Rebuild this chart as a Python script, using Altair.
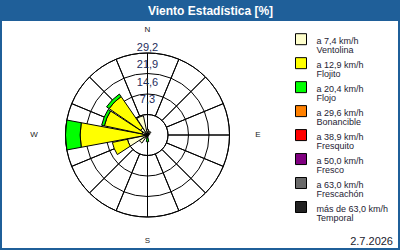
import altair as alt
import pandas as pd

# ---------------- data ----------------
title_text = "Viento Estadística [%]"
date_text = "2.7.2026"

directions = ["N", "NNE", "NE", "ENE", "E", "ESE", "SE", "SSE",
              "S", "SSW", "SW", "WSW", "W", "WNW", "NW", "NNW"]

ventolina  = [2.0, 1.5, 1.5, 0.8, 0.5, 0.4, 0.4, 0.5, 0.4, 1.2, 3.5, 7.3, 1.5, 2.0, 3.0, 7.0]
flojito    = [0.0, 0.0, 0.0, 0.0, 0.0, 0.0, 0.0, 0.0, 0.4, 0.0, 0.0, 5.5, 22.5, 13.7, 13.6, 0.0]
flojo      = [0.0, 0.0, 0.0, 0.0, 0.0, 0.0, 0.0, 0.0, 1.6, 0.0, 0.0, 0.0, 5.2, 1.0, 1.1, 0.0]
bonancible = [0.0] * 16
fresquito  = [0.0] * 16
fresco     = [0.0] * 16
frescachon = [0.0] * 16
temporal   = [0.0] * 16

speed_labels = ["a 7,4 km/h", "a 12,9 km/h", "a 20,4 km/h", "a 29,6 km/h",
                "a 38,9 km/h", "a 50,0 km/h", "a 63,0 km/h", "más de 63,0 km/h"]
class_names = ["Ventolina", "Flojito", "Flojo", "Bonancible",
               "Fresquito", "Fresco", "Frescachón", "Temporal"]
colors = ["#FFFFCC", "#FFFF00", "#00FF00", "#FF8000",
          "#FF0000", "#800080", "#696969", "#222222"]

ring_values = [7.3, 14.6, 21.9, 29.2]
ring_labels = ["7,3", "14,6", "21,9", "29,2"]

compass_ns = ["N", "S"]
compass_ns_deg = [0, 180]
compass_we = ["W", "E"]
compass_we_deg = [270, 90]

series = [ventolina, flojito, flojo, bonancible, fresquito, fresco, frescachon, temporal]

# ---------------- tables ----------------
STEP = 360 / len(directions)
HALF = 10.5
rows = []
for i, d in enumerate(directions):
    base = 0.0
    for j, s in enumerate(series):
        v = s[i]
        if v > 0:
            rows.append(dict(dir=d, cls=class_names[j],
                             t0=i * STEP - HALF, t1=i * STEP + HALF,
                             r0=base, r1=base + v))
            base += v
wedges = pd.DataFrame(rows)

sectors = pd.DataFrame(dict(
    t0=[i * STEP for i in range(len(directions))],
    t1=[(i + 1) * STEP for i in range(len(directions))],
    rin=[ring_values[0]] * len(directions),
    rout=[ring_values[-1]] * len(directions),
))
rings = pd.DataFrame(dict(v=ring_values, t0=[0] * 4, t1=[360] * 4))
ns_line = pd.DataFrame(dict(t=[0, 180], r=[ring_values[0]] * 2, r0=[0, 0]))
ring_lab = pd.DataFrame(dict(v=ring_values, lab=ring_labels, t=[0] * 4))
ns_df = pd.DataFrame(dict(lab=compass_ns, t=compass_ns_deg))
we_df = pd.DataFrame(dict(lab=compass_we, t=compass_we_deg))
legend_df = pd.DataFrame(dict(cls=class_names, speed=speed_labels))
date_df = pd.DataFrame(dict(txt=[date_text]))
title_df = pd.DataFrame(dict(txt=[title_text]))

# ---------------- scales ----------------
CX, CY = 145.5, 114
theta_scale = alt.Scale(domain=[0, 360], range=[0, 6.283185307179586])
rad_scale = alt.Scale(type="linear", domain=[0, 29.2], range=[0, 82])
color_scale = alt.Scale(domain=class_names, range=colors)
FONT = "Liberation Sans"

cx = alt.value(CX)
cy = alt.value(CY)

grid_sectors = alt.Chart(sectors).mark_arc(
    fill="transparent", stroke="black", strokeWidth=1
).encode(
    theta=alt.Theta("t0:Q", scale=theta_scale, stack=None),
    theta2="t1:Q",
    radius=alt.Radius("rout:Q", scale=rad_scale),
    radius2="rin:Q",
    x=cx, y=cy,
)

grid_rings = alt.Chart(rings).mark_arc(
    fill="transparent", stroke="black", strokeWidth=1
).encode(
    theta=alt.Theta("t0:Q", scale=theta_scale, stack=None),
    theta2="t1:Q",
    radius=alt.Radius("v:Q", scale=rad_scale),
    x=cx, y=cy,
)

grid_ns = alt.Chart(ns_line).mark_arc(
    fill="transparent", stroke="black", strokeWidth=1
).encode(
    theta=alt.Theta("t:Q", scale=theta_scale, stack=None),
    theta2="t:Q",
    radius=alt.Radius("r:Q", scale=rad_scale),
    radius2="r0:Q",
    x=cx, y=cy,
)

wedge_layer = alt.Chart(wedges).mark_arc(
    stroke="black", strokeWidth=1
).encode(
    theta=alt.Theta("t0:Q", scale=theta_scale, stack=None),
    theta2="t1:Q",
    radius=alt.Radius("r1:Q", scale=rad_scale),
    radius2="r0:Q",
    color=alt.Color("cls:N", scale=color_scale, legend=None),
    x=cx, y=cy,
)

ring_text = alt.Chart(ring_lab).mark_text(
    font=FONT, fontSize=11, color="#1c2c5c", align="center", baseline="middle"
).encode(
    theta=alt.Theta("t:Q", scale=theta_scale, stack=None),
    radius=alt.Radius("v:Q", scale=alt.Scale(type="linear", domain=[0, 29.2], range=[17.7, 87])),
    text="lab:N",
    x=cx, y=cy,
)

ns_text = alt.Chart(ns_df).mark_text(
    font=FONT, fontSize=8, color="#222222", align="center", baseline="middle"
).encode(
    theta=alt.Theta("t:Q", scale=theta_scale, stack=None),
    radius=alt.value(105.5),
    text="lab:N",
    x=cx, y=cy,
)

we_text = alt.Chart(we_df).mark_text(
    font=FONT, fontSize=8, color="#222222", align="center", baseline="middle"
).encode(
    theta=alt.Theta("t:Q", scale=theta_scale, stack=None),
    radius=alt.value(112),
    text="lab:N",
    x=alt.value(144), y=cy,
)

leg_y = alt.Y("cls:N", sort=class_names,
              scale=alt.Scale(type="point", domain=class_names, range=[18.2, 186], padding=0),
              axis=None)

leg_sq = alt.Chart(legend_df).mark_square(
    size=121, stroke="black", strokeWidth=1, opacity=1
).encode(
    x=alt.value(299), y=leg_y,
    color=alt.Color("cls:N", scale=color_scale, legend=None),
)

leg_t1 = alt.Chart(legend_df).mark_text(
    font=FONT, fontSize=9, color="#1e2233", align="left", baseline="alphabetic", dy=4.5
).encode(x=alt.value(314.5), y=leg_y, text="speed:N")

leg_t2 = alt.Chart(legend_df).mark_text(
    font=FONT, fontSize=9, color="#1e2233", align="left", baseline="alphabetic", dy=14
).encode(x=alt.value(314.5), y=leg_y, text="cls:N")

date_layer = alt.Chart(date_df).mark_text(
    font=FONT, fontSize=11, color="#1a1a2e", align="right", baseline="alphabetic"
).encode(x=alt.value(391), y=alt.value(224), text="txt:N")

title_layer = alt.Chart(title_df).mark_text(
    font=FONT, fontSize=12, fontWeight="bold", color="white",
    align="center", baseline="alphabetic"
).encode(x=alt.value(208.5), y=alt.value(-6), text="txt:N")

chart = alt.layer(
    grid_sectors, grid_rings, grid_ns, wedge_layer,
    ring_text, ns_text, we_text, leg_sq, leg_t1, leg_t2, date_layer, title_layer
).resolve_scale(
    radius="independent"
).properties(
    width=396, height=227,
    autosize=alt.AutoSizeParams(type="none"),
    padding={"left": 2, "top": 21, "right": 2, "bottom": 2},
    background="#1f5f99",
).configure_view(fill="white", strokeWidth=0)

chart.save("out.html", embed_options={"renderer": "svg", "actions": False})
